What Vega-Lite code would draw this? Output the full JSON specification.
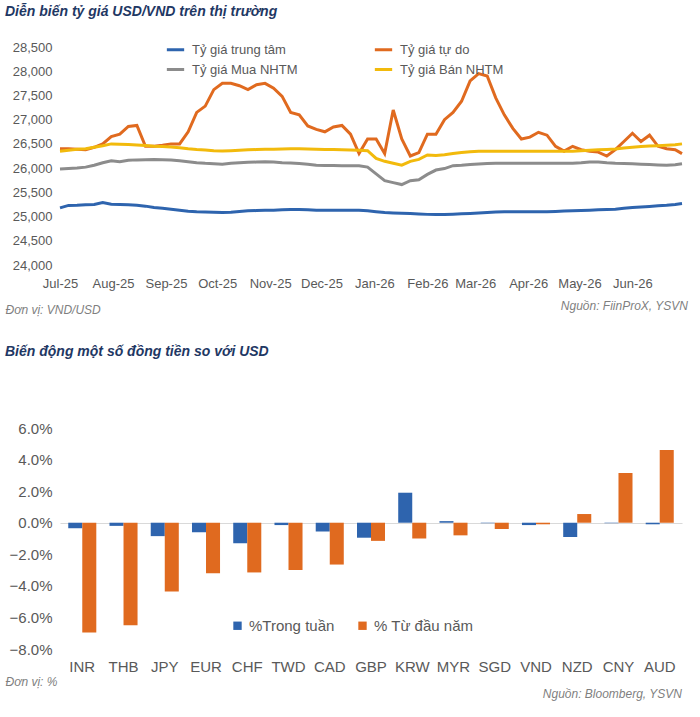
{
  "$schema": "https://vega.github.io/schema/vega-lite/v6.json",
  "background": "white",
  "padding": {"left": 5, "right": 10, "top": 5, "bottom": 2},
  "resolve": {"scale": {"color": "independent"}, "legend": {"color": "independent"}},
  "config": {
    "font": "Liberation Sans",
    "view": {"stroke": null},
    "axis": {"domain": false, "ticks": false, "grid": false, "labelColor": "#595959", "labelFontSize": 13, "labelFont": "Liberation Sans", "labelOverlap": false},
    "title": {"font": "Liberation Sans", "fontSize": 14, "fontStyle": "italic", "fontWeight": "bold", "color": "#1F3864", "anchor": "start"},
    "concat": {"spacing": 30}
  },
  "vconcat": [
    {
      "title": {"text": "Nguồn: FiinProX, YSVN", "orient": "bottom", "anchor": "end", "fontSize": 12, "fontWeight": "normal", "color": "#7f7f7f", "offset": -14},
      "vconcat": [
        {
          "title": {"text": "Diễn biến tỷ giá USD/VND trên thị trường", "offset": 22},
          "width": 622,
          "height": 218,
          "data": {"values": [
            {"d": "2025-07-01", "tt": 25180, "td": 26400, "mua": 25980, "ban": 26350},
            {"d": "2025-07-06", "tt": 25230, "td": 26400, "mua": 25990, "ban": 26370},
            {"d": "2025-07-11", "tt": 25235, "td": 26390, "mua": 26000, "ban": 26390},
            {"d": "2025-07-16", "tt": 25245, "td": 26380, "mua": 26020, "ban": 26400},
            {"d": "2025-07-21", "tt": 25250, "td": 26430, "mua": 26060, "ban": 26430},
            {"d": "2025-07-26", "tt": 25290, "td": 26500, "mua": 26110, "ban": 26460},
            {"d": "2025-07-31", "tt": 25255, "td": 26650, "mua": 26150, "ban": 26500},
            {"d": "2025-08-05", "tt": 25250, "td": 26700, "mua": 26130, "ban": 26495},
            {"d": "2025-08-10", "tt": 25245, "td": 26860, "mua": 26160, "ban": 26485},
            {"d": "2025-08-15", "tt": 25235, "td": 26880, "mua": 26170, "ban": 26478},
            {"d": "2025-08-20", "tt": 25215, "td": 26450, "mua": 26175, "ban": 26465},
            {"d": "2025-08-25", "tt": 25185, "td": 26450, "mua": 26180, "ban": 26452},
            {"d": "2025-08-30", "tt": 25170, "td": 26470, "mua": 26175, "ban": 26445},
            {"d": "2025-09-04", "tt": 25150, "td": 26500, "mua": 26165, "ban": 26435},
            {"d": "2025-09-09", "tt": 25130, "td": 26500, "mua": 26150, "ban": 26420},
            {"d": "2025-09-14", "tt": 25110, "td": 26750, "mua": 26130, "ban": 26400},
            {"d": "2025-09-19", "tt": 25100, "td": 27150, "mua": 26110, "ban": 26385},
            {"d": "2025-09-24", "tt": 25095, "td": 27280, "mua": 26098, "ban": 26375},
            {"d": "2025-09-29", "tt": 25090, "td": 27620, "mua": 26090, "ban": 26360},
            {"d": "2025-10-04", "tt": 25082, "td": 27750, "mua": 26080, "ban": 26352},
            {"d": "2025-10-09", "tt": 25090, "td": 27750, "mua": 26100, "ban": 26360},
            {"d": "2025-10-14", "tt": 25105, "td": 27700, "mua": 26110, "ban": 26370},
            {"d": "2025-10-19", "tt": 25118, "td": 27620, "mua": 26120, "ban": 26378},
            {"d": "2025-10-24", "tt": 25123, "td": 27720, "mua": 26125, "ban": 26382},
            {"d": "2025-10-29", "tt": 25128, "td": 27750, "mua": 26130, "ban": 26388},
            {"d": "2025-11-03", "tt": 25132, "td": 27650, "mua": 26125, "ban": 26390},
            {"d": "2025-11-08", "tt": 25140, "td": 27480, "mua": 26110, "ban": 26395},
            {"d": "2025-11-13", "tt": 25148, "td": 27150, "mua": 26105, "ban": 26400},
            {"d": "2025-11-18", "tt": 25147, "td": 27100, "mua": 26095, "ban": 26398},
            {"d": "2025-11-23", "tt": 25140, "td": 26870, "mua": 26080, "ban": 26395},
            {"d": "2025-11-28", "tt": 25132, "td": 26800, "mua": 26060, "ban": 26390},
            {"d": "2025-12-03", "tt": 25130, "td": 26750, "mua": 26055, "ban": 26385},
            {"d": "2025-12-08", "tt": 25130, "td": 26850, "mua": 26052, "ban": 26383},
            {"d": "2025-12-13", "tt": 25130, "td": 26880, "mua": 26050, "ban": 26380},
            {"d": "2025-12-18", "tt": 25130, "td": 26700, "mua": 26050, "ban": 26375},
            {"d": "2025-12-23", "tt": 25130, "td": 26300, "mua": 26050, "ban": 26368},
            {"d": "2025-12-28", "tt": 25120, "td": 26600, "mua": 26020, "ban": 26360},
            {"d": "2026-01-02", "tt": 25100, "td": 26600, "mua": 25880, "ban": 26200},
            {"d": "2026-01-07", "tt": 25082, "td": 26300, "mua": 25740, "ban": 26140},
            {"d": "2026-01-12", "tt": 25075, "td": 27200, "mua": 25700, "ban": 26100},
            {"d": "2026-01-17", "tt": 25070, "td": 26600, "mua": 25660, "ban": 26060},
            {"d": "2026-01-22", "tt": 25062, "td": 26250, "mua": 25740, "ban": 26140},
            {"d": "2026-01-27", "tt": 25055, "td": 26320, "mua": 25760, "ban": 26180},
            {"d": "2026-02-01", "tt": 25045, "td": 26700, "mua": 25870, "ban": 26270},
            {"d": "2026-02-06", "tt": 25040, "td": 26700, "mua": 25960, "ban": 26260},
            {"d": "2026-02-11", "tt": 25045, "td": 27000, "mua": 25990, "ban": 26275},
            {"d": "2026-02-16", "tt": 25050, "td": 27150, "mua": 26050, "ban": 26300},
            {"d": "2026-02-21", "tt": 25058, "td": 27380, "mua": 26060, "ban": 26320},
            {"d": "2026-02-26", "tt": 25065, "td": 27800, "mua": 26075, "ban": 26340},
            {"d": "2026-03-03", "tt": 25075, "td": 27950, "mua": 26085, "ban": 26350},
            {"d": "2026-03-08", "tt": 25085, "td": 27900, "mua": 26095, "ban": 26350},
            {"d": "2026-03-13", "tt": 25092, "td": 27450, "mua": 26100, "ban": 26350},
            {"d": "2026-03-18", "tt": 25100, "td": 27100, "mua": 26100, "ban": 26350},
            {"d": "2026-03-23", "tt": 25100, "td": 26820, "mua": 26100, "ban": 26350},
            {"d": "2026-03-28", "tt": 25100, "td": 26600, "mua": 26100, "ban": 26350},
            {"d": "2026-04-02", "tt": 25100, "td": 26640, "mua": 26100, "ban": 26350},
            {"d": "2026-04-07", "tt": 25100, "td": 26740, "mua": 26100, "ban": 26350},
            {"d": "2026-04-12", "tt": 25100, "td": 26680, "mua": 26100, "ban": 26350},
            {"d": "2026-04-17", "tt": 25106, "td": 26450, "mua": 26100, "ban": 26350},
            {"d": "2026-04-22", "tt": 25113, "td": 26350, "mua": 26100, "ban": 26350},
            {"d": "2026-04-27", "tt": 25120, "td": 26450, "mua": 26100, "ban": 26350},
            {"d": "2026-05-02", "tt": 25126, "td": 26380, "mua": 26110, "ban": 26360},
            {"d": "2026-05-07", "tt": 25132, "td": 26350, "mua": 26125, "ban": 26370},
            {"d": "2026-05-12", "tt": 25138, "td": 26330, "mua": 26128, "ban": 26378},
            {"d": "2026-05-17", "tt": 25144, "td": 26250, "mua": 26110, "ban": 26385},
            {"d": "2026-05-22", "tt": 25150, "td": 26380, "mua": 26100, "ban": 26395},
            {"d": "2026-05-27", "tt": 25170, "td": 26550, "mua": 26095, "ban": 26415},
            {"d": "2026-06-01", "tt": 25185, "td": 26720, "mua": 26090, "ban": 26432},
            {"d": "2026-06-06", "tt": 25198, "td": 26550, "mua": 26082, "ban": 26448},
            {"d": "2026-06-11", "tt": 25210, "td": 26680, "mua": 26075, "ban": 26455},
            {"d": "2026-06-16", "tt": 25222, "td": 26450, "mua": 26066, "ban": 26462},
            {"d": "2026-06-21", "tt": 25232, "td": 26400, "mua": 26060, "ban": 26470},
            {"d": "2026-06-26", "tt": 25250, "td": 26380, "mua": 26070, "ban": 26480},
            {"d": "2026-06-30", "tt": 25270, "td": 26300, "mua": 26090, "ban": 26500}
          ]},
          "transform": [
            {"fold": ["tt", "td", "mua", "ban"], "as": ["k", "v"]},
            {"lookup": "k", "from": {"data": {"values": [
              {"k": "tt", "name": "Tỷ giá trung tâm"},
              {"k": "td", "name": "Tỷ giá tự do"},
              {"k": "mua", "name": "Tỷ giá Mua NHTM"},
              {"k": "ban", "name": "Tỷ giá Bán NHTM"}
            ]}, "key": "k", "fields": ["name"]}}
          ],
          "mark": {"type": "line", "strokeWidth": 3},
          "encoding": {
            "x": {"field": "d", "type": "temporal", "scale": {"domain": ["2025-07-01", "2026-06-30"]},
              "axis": {"format": "%b-%y", "tickCount": {"interval": "month", "step": 1}, "labelFontSize": 13, "labelAlign": "center", "labelPadding": 12,
                "title": "Đơn vị: VND/USD", "titleAnchor": "start", "titleFontStyle": "italic", "titleFontWeight": "normal", "titleColor": "#7f7f7f", "titleFontSize": 12, "titleX": -55, "titlePadding": 14}},
            "y": {"field": "v", "type": "quantitative", "scale": {"domain": [24000, 28500]},
              "axis": {"values": [24000, 24500, 25000, 25500, 26000, 26500, 27000, 27500, 28000, 28500], "format": ",d", "title": null, "labelPadding": 8, "labelOverlap": false}},
            "color": {"field": "name", "type": "nominal",
              "scale": {"domain": ["Tỷ giá trung tâm", "Tỷ giá tự do", "Tỷ giá Mua NHTM", "Tỷ giá Bán NHTM"], "range": ["#2E64AE", "#E06A1F", "#8C8C8C", "#F2BA0C"]},
              "legend": {"title": null, "orient": "none", "legendX": 105, "legendY": -8, "direction": "horizontal", "columns": 2, "columnPadding": 70, "rowPadding": 2, "symbolType": "stroke", "symbolStrokeWidth": 3, "symbolSize": 300, "labelOffset": 6, "labelFontSize": 13, "labelColor": "#595959"}},
            "order": {"field": "k", "sort": "descending"}
          }
        }
      ]
    },
    {
      "title": {"text": "Nguồn: Bloomberg, YSVN", "orient": "bottom", "anchor": "end", "fontSize": 12, "fontWeight": "normal", "color": "#7f7f7f", "offset": 2},
      "vconcat": [
        {
          "title": {"text": "Biến động một số đồng tiền so với USD", "offset": 62},
          "width": 622,
          "height": 221,
          "data": {"values": [
            {"c": "INR", "s": "%Trong tuần", "v": -0.35}, {"c": "INR", "s": "% Từ đầu năm", "v": -6.95},
            {"c": "THB", "s": "%Trong tuần", "v": -0.2}, {"c": "THB", "s": "% Từ đầu năm", "v": -6.5},
            {"c": "JPY", "s": "%Trong tuần", "v": -0.85}, {"c": "JPY", "s": "% Từ đầu năm", "v": -4.35},
            {"c": "EUR", "s": "%Trong tuần", "v": -0.6}, {"c": "EUR", "s": "% Từ đầu năm", "v": -3.2},
            {"c": "CHF", "s": "%Trong tuần", "v": -1.3}, {"c": "CHF", "s": "% Từ đầu năm", "v": -3.15},
            {"c": "TWD", "s": "%Trong tuần", "v": -0.15}, {"c": "TWD", "s": "% Từ đầu năm", "v": -3.0},
            {"c": "CAD", "s": "%Trong tuần", "v": -0.55}, {"c": "CAD", "s": "% Từ đầu năm", "v": -2.65},
            {"c": "GBP", "s": "%Trong tuần", "v": -0.95}, {"c": "GBP", "s": "% Từ đầu năm", "v": -1.15},
            {"c": "KRW", "s": "%Trong tuần", "v": 1.9}, {"c": "KRW", "s": "% Từ đầu năm", "v": -1.0},
            {"c": "MYR", "s": "%Trong tuần", "v": 0.1}, {"c": "MYR", "s": "% Từ đầu năm", "v": -0.8},
            {"c": "SGD", "s": "%Trong tuần", "v": -0.03}, {"c": "SGD", "s": "% Từ đầu năm", "v": -0.4},
            {"c": "VND", "s": "%Trong tuần", "v": -0.15}, {"c": "VND", "s": "% Từ đầu năm", "v": -0.1},
            {"c": "NZD", "s": "%Trong tuần", "v": -0.9}, {"c": "NZD", "s": "% Từ đầu năm", "v": 0.55},
            {"c": "CNY", "s": "%Trong tuần", "v": -0.03}, {"c": "CNY", "s": "% Từ đầu năm", "v": 3.15},
            {"c": "AUD", "s": "%Trong tuần", "v": -0.1}, {"c": "AUD", "s": "% Từ đầu năm", "v": 4.6}
          ]},
          "mark": {"type": "bar"},
          "encoding": {
            "x": {"field": "c", "type": "nominal", "sort": null, "scale": {"paddingInner": 0.32, "paddingOuter": 0.2},
              "axis": {"title": "Đơn vị: %", "titleAnchor": "start", "titleFontStyle": "italic", "titleFontWeight": "normal", "titleColor": "#7f7f7f", "titleFontSize": 12, "titleX": -55, "titlePadding": 2, "labelAngle": 0, "labelFontSize": 15, "labelPadding": 10}},
            "xOffset": {"field": "s", "type": "nominal", "sort": ["%Trong tuần", "% Từ đầu năm"]},
            "y": {"field": "v", "type": "quantitative", "scale": {"domain": [-8, 6], "nice": false},
              "axis": {"values": [-8, -6, -4, -2, 0, 2, 4, 6], "labelExpr": "format(datum.value, '.1f') + '%'", "title": null, "labelFontSize": 15, "labelPadding": 8, "labelOverlap": false,
                "grid": true, "gridColor": {"condition": {"test": "datum.value === 0", "value": "#d9d9d9"}, "value": "transparent"}}},
            "color": {"field": "s", "type": "nominal",
              "scale": {"domain": ["%Trong tuần", "% Từ đầu năm"], "range": ["#2E64AE", "#E06A1F"]},
              "legend": {"title": null, "orient": "none", "legendX": 170, "legendY": 190, "direction": "horizontal", "symbolType": "square", "symbolSize": 70, "labelFontSize": 15, "labelColor": "#595959", "columnPadding": 20}}
          }
        }
      ]
    }
  ]
}
